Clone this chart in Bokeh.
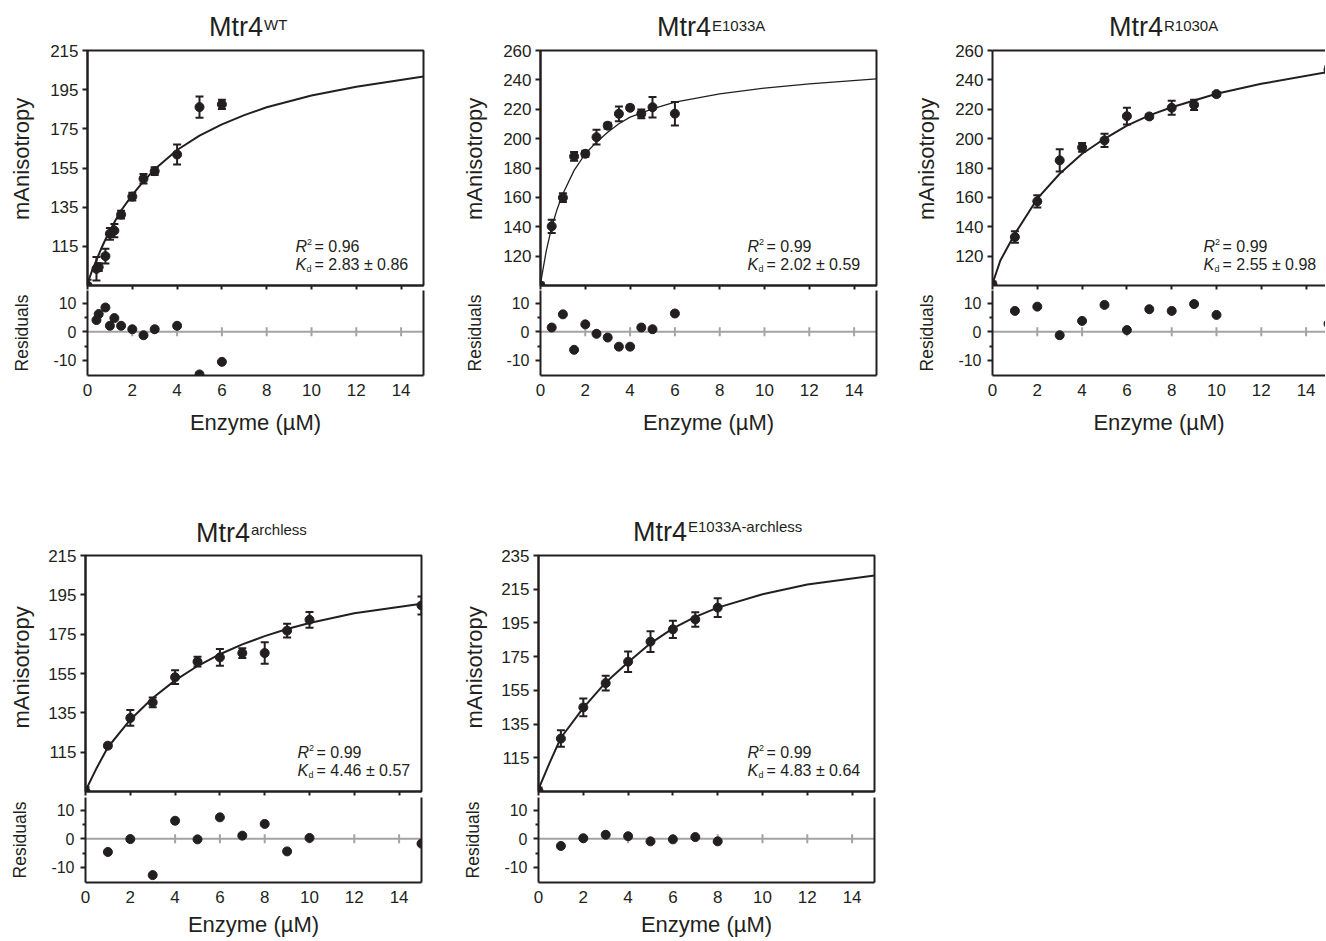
import math
from bokeh.plotting import figure
from bokeh.layouts import row, column
from bokeh.models import (ColumnDataSource, Whisker, TeeHead, FixedTicker, LinearAxis,
                          Label, Span, Range1d, Div)
from bokeh.embed import file_html
from bokeh.resources import INLINE

# ------------------------------------------------------------------ data
x_ticks = [0, 2, 4, 6, 8, 10, 12, 14]
zero_line_ticks = [2, 4, 6, 8, 10, 12, 14]
resid_ticks = [-10, 0, 10]
resid_minor_ticks = [-5, 5]
resid_tick_labels = {-10: "-10", 0: "0", 10: "10"}

# Mtr4 WT
wt_conc = [0, 0.4, 0.5, 0.8, 1.0, 1.2, 1.5, 2.0, 2.5, 3.0, 4.0, 5.0, 6.0]
wt_aniso = [95, 103.5, 104.4, 110, 121.4, 123, 131.2, 140.4, 149.5, 153.4, 161.9, 186.1, 187.5]
wt_err = [3, 6, 2, 3.8, 3, 3.4, 2, 2, 2.4, 2, 5.1, 5.4, 2.4]
wt_fit_conc = [0, 0.2, 0.4, 0.6, 0.8, 1.0, 1.25, 1.5, 2, 2.5, 3, 4, 5, 6, 7, 8, 10, 12, 15]
wt_fit = [96, 102.5, 108, 113.5, 118.5, 123, 128.3, 133.3, 141.3, 148.2, 154.4, 164.2,
          171.5, 177.3, 182, 186, 192, 196.5, 201.7]
wt_res_conc = [0.4, 0.5, 0.8, 1.0, 1.2, 1.5, 2.0, 2.5, 3.0, 4.0, 5.0, 6.0]
wt_res = [4.1, 6.2, 8.5, 2.1, 4.8, 2.1, 0.9, -1.2, 0.9, 2.1, -14.9, -10.5]

# Mtr4 E1033A
e_conc = [0, 0.5, 1.0, 1.5, 2.0, 2.5, 3.0, 3.5, 4.0, 4.5, 5.0, 6.0]
e_aniso = [100, 140.3, 159.8, 187.9, 189.7, 201, 208.8, 216.9, 221, 216.9, 221.4, 217]
e_err = [2, 4.5, 3, 3, 2, 5, 2, 5, 1.5, 3, 7, 8]
e_fit_conc = [0, 0.1, 0.25, 0.5, 0.75, 1, 1.5, 2, 2.5, 3, 3.5, 4, 5, 6, 8, 10, 12, 15]
e_fit = [101.3, 110, 123, 139.8, 152.3, 162.5, 178.4, 189.7, 197.6, 204.4, 210.1, 214.6,
         220.3, 224.8, 230.5, 234.4, 237.3, 240.7]
e_res_conc = [0.5, 1.0, 1.5, 2.0, 2.5, 3.0, 3.5, 4.0, 4.5, 5.0, 6.0]
e_res = [1.5, 6.1, -6.3, 2.6, -0.7, -2.0, -5.2, -5.2, 1.5, 0.9, 6.4]

# Mtr4 R1030A
r_conc = [0, 1, 2, 3, 4, 5, 6, 7, 8, 9, 10, 15]
r_aniso = [100.8, 133, 157.3, 185.2, 194, 198.8, 215.3, 215.1, 221, 223, 230.3, 247]
r_err = [2, 3.9, 4.2, 7.5, 3, 4.5, 5.7, 1.5, 4.8, 3.5, 1.5, 2.5]
r_fit_conc = [0, 0.35, 1, 2, 3, 4, 5, 6, 7, 8, 9, 10, 12, 15]
r_fit = [101.2, 117, 135.2, 159.1, 176.1, 189.7, 199.9, 208.9, 215.8, 221.4, 226, 230.5,
         237.3, 245.5]
r_res_conc = [1, 2, 3, 4, 5, 6, 7, 8, 9, 10, 15]
r_res = [7.3, 8.8, -1.2, 3.8, 9.4, 0.6, 7.9, 7.3, 9.7, 5.9, 2.8]

# Mtr4 archless
a_conc = [0, 1, 2, 3, 4, 5, 6, 7, 8, 9, 10, 15]
a_aniso = [95.1, 118.3, 132.4, 140.3, 153.1, 161, 163.2, 165.4, 165.4, 176.8, 182.3, 189.6]
a_err = [2, 1, 4, 2.5, 3.5, 2.5, 4.2, 2.5, 5.5, 3.5, 4, 4.6]
a_fit_conc = [0, 0.5, 1, 2, 3, 4, 5, 6, 7, 8, 9, 10, 12, 15]
a_fit = [95.4, 107, 117.5, 131.5, 142.5, 151.5, 158.8, 164.8, 169.8, 174, 177.6, 180.7,
         185.6, 190.5]
a_res_conc = [1, 2, 3, 4, 5, 6, 7, 8, 9, 10, 15]
a_res = [-4.6, -0.1, -12.7, 6.3, -0.2, 7.5, 1.1, 5.2, -4.4, 0.3, -1.7]

# Mtr4 E1033A-archless
ea_conc = [0, 1, 2, 3, 4, 5, 6, 7, 8]
ea_aniso = [95.4, 126.4, 144.9, 159.3, 172, 183.9, 191.2, 197.1, 204.1]
ea_err = [2, 4.9, 5.2, 4.4, 6.1, 6.1, 5.1, 4.3, 5.6]
ea_fit_conc = [0, 0.5, 1, 2, 3, 4, 5, 6, 7, 8, 10, 12, 15]
ea_fit = [96.4, 112.1, 126.9, 144.6, 159.7, 171.7, 182.9, 191.8, 198.6, 204.1, 212,
          217.8, 223.2]
ea_res_conc = [1, 2, 3, 4, 5, 6, 7, 8]
ea_res = [-2.5, 0.2, 1.4, 0.9, -0.9, -0.2, 0.6, -0.9]

# ------------------------------------------------------------------ style
INK = "#231f20"
GRAY = "#a3a3a3"
FONT = "Liberation Sans"
PX_PER_UNIT = 22.4          # x scale, pixels per µM
RES_RANGE = (-15.28, 14.44)
NBSP = "\u00a0"


def lab(fig, x, y, text, size, style="normal", align="left", baseline="alphabetic"):
    fig.add_layout(Label(x=x, y=y, text=text, text_font=FONT, text_font_size=size,
                         text_font_style=style, text_color=INK, text_align=align,
                         text_baseline=baseline))


def line_axis(fig, place):
    ax = LinearAxis(ticker=FixedTicker(ticks=[]), major_tick_out=0, major_tick_in=0,
                    minor_tick_out=0, minor_tick_in=0, major_label_text_font_size="1px",
                    major_label_text_color=None, major_label_standoff=0,
                    axis_line_width=2, axis_line_color=INK)
    fig.add_layout(ax, place)


def title_div(width, height, left, top, sup, sup_raise):
    html = ('<div style="position:relative;width:%dpx;height:%dpx;margin:0;padding:0;">'
            '<span style="position:absolute;left:%dpx;top:%dpx;white-space:nowrap;'
            "font-family:'Liberation Sans',Arial,sans-serif;font-size:27px;line-height:27px;"
            'color:%s;">Mtr4<span style="font-size:15px;line-height:0;position:relative;'
            'top:-%.1fpx;margin-left:1px;">%s</span></span></div>'
            % (width, height, left, top, INK, sup_raise, sup))
    return Div(text=html, width=width, height=height, margin=0)


def build_panel(s):
    L, R, FW = s["L"], s["R"], s["FW"]
    T, H, bb, RB = s["T"], s["H"], s["bb"], s["RB"]
    RH = 85
    W = L + FW + R
    xend = FW / PX_PER_UNIT
    ymin, ymax = s["yrange"]
    py = H / (ymax - ymin)

    def dx(px):
        return px / PX_PER_UNIT

    def up(p):
        return ymin + p / py

    top_pad = 8
    div_h = T - top_pad
    div = title_div(W, div_h, L + s["title_dx"], div_h + top_pad - s["title_dy"] - 22.9,
                    s["sup"], s["sup_raise"])

    xr = Range1d(0, xend)
    # ---------------- main plot
    p = figure(width=W, height=top_pad + H + bb, x_range=xr, y_range=Range1d(ymin, ymax),
               tools="", toolbar_location=None, output_backend="svg", title=None,
               min_border_left=L, min_border_right=R, min_border_top=top_pad,
               min_border_bottom=bb)
    p.grid.visible = False
    p.outline_line_color = INK if s["right"] else None
    p.outline_line_width = 2
    ya = p.yaxis[0]
    ya.ticker = FixedTicker(ticks=s["yticks"])
    ya.major_tick_out = 5
    ya.major_tick_in = 0
    ya.minor_tick_out = 0
    ya.minor_tick_in = 0
    ya.major_tick_line_width = 2
    ya.major_tick_line_color = INK
    ya.axis_line_width = 2
    ya.axis_line_color = INK
    ya.major_label_text_font = FONT
    ya.major_label_text_font_size = "17px"
    ya.major_label_text_color = INK
    ya.major_label_standoff = 4
    # leading no-break spaces nudge the centred title slightly upward, as in the original
    ya.axis_label = NBSP * s["ylab_shift"] + "mAnisotropy"
    ya.axis_label_text_font = FONT
    ya.axis_label_text_font_size = "22px"
    ya.axis_label_text_font_style = "normal"
    ya.axis_label_text_color = INK
    ya.axis_label_standoff = s["ylab_standoff"]
    xa = p.xaxis[0]
    xa.ticker = FixedTicker(ticks=x_ticks)
    xa.major_tick_out = 4
    xa.major_tick_in = 0
    xa.minor_tick_out = 0
    xa.minor_tick_in = 0
    xa.major_tick_line_width = 2
    xa.major_tick_line_color = INK
    xa.axis_line_width = 2
    xa.axis_line_color = INK
    xa.major_label_text_font_size = "1px"
    xa.major_label_text_color = None
    xa.major_label_standoff = 0
    if not s["right"]:
        line_axis(p, "above")

    src = ColumnDataSource(dict(x=s["conc"], y=s["aniso"],
                                lo=[v - e for v, e in zip(s["aniso"], s["err"])],
                                hi=[v + e for v, e in zip(s["aniso"], s["err"])]))
    p.line(s["fit_conc"], s["fit"], line_color=INK, line_width=s["fit_lw"])
    p.add_layout(Whisker(source=src, base="x", lower="lo", upper="hi", line_color=INK,
                         line_width=2,
                         lower_head=TeeHead(size=8, line_color=INK, line_width=2),
                         upper_head=TeeHead(size=8, line_color=INK, line_width=2)))
    p.scatter("x", "y", source=src, size=9, fill_color=INK, line_color=INK)

    # statistics
    ax0 = s["ann_dx"]
    lab(p, dx(ax0), up(39), "R", "16px", style="italic")
    lab(p, dx(ax0 + 11.5), up(44), "2", "9px")
    lab(p, dx(ax0 + 19), up(39), "= " + s["r2"], "16px")
    lab(p, dx(ax0), up(21), "K", "16px", style="italic")
    lab(p, dx(ax0 + 11), up(17), "d", "9px")
    lab(p, dx(ax0 + 19), up(21), "= " + s["kd"], "16px")

    # ---------------- residual plot
    r = figure(width=W, height=RH + RB, x_range=xr, y_range=Range1d(*RES_RANGE),
               tools="", toolbar_location=None, output_backend="svg", title=None,
               min_border_left=L, min_border_right=R, min_border_top=0, min_border_bottom=RB)
    r.grid.visible = False
    r.outline_line_color = None
    ry = r.yaxis[0]
    ry.ticker = FixedTicker(ticks=resid_ticks, minor_ticks=resid_minor_ticks)
    ry.major_label_overrides = resid_tick_labels
    ry.major_tick_out = 5
    ry.major_tick_in = 0
    ry.minor_tick_out = 3
    ry.minor_tick_in = 0
    ry.major_tick_line_width = 2
    ry.minor_tick_line_width = 2
    ry.major_tick_line_color = INK
    ry.minor_tick_line_color = INK
    ry.axis_line_width = 2
    ry.axis_line_color = INK
    ry.major_label_text_font = FONT
    ry.major_label_text_font_size = "16px"
    ry.major_label_text_color = INK
    ry.major_label_standoff = 6
    ry.axis_label = "Residuals"
    ry.axis_label_text_font = FONT
    ry.axis_label_text_font_size = "17.5px"
    ry.axis_label_text_font_style = "normal"
    ry.axis_label_text_color = INK
    ry.axis_label_standoff = 18
    rx = r.xaxis[0]
    rx.ticker = FixedTicker(ticks=x_ticks)
    rx.major_tick_out = 0
    rx.major_tick_in = 0
    rx.minor_tick_out = 0
    rx.minor_tick_in = 0
    rx.axis_line_width = 2
    rx.axis_line_color = INK
    rx.major_label_text_font = FONT
    rx.major_label_text_font_size = "17px"
    rx.major_label_text_color = INK
    rx.major_label_standoff = 8
    rx.axis_label = "Enzyme (\u00b5M)"
    rx.axis_label_text_font = FONT
    rx.axis_label_text_font_size = "22px"
    rx.axis_label_text_font_style = "normal"
    rx.axis_label_text_color = INK
    rx.axis_label_standoff = s["xlab_standoff"]
    if s["right"]:
        line_axis(r, "right")
    r.add_layout(Span(location=0, dimension="width", line_color=GRAY, line_width=2,
                      level="underlay"))
    r.scatter(zero_line_ticks, [0] * len(zero_line_ticks), marker="dash", angle=math.pi / 2,
              size=9, line_color=GRAY, line_width=2)
    r.scatter(s["res_conc"], s["res"], size=9, fill_color=INK, line_color=INK)
    return column(div, p, r, spacing=0)


common_row1 = dict(T=50, H=235, bb=5, RB=80, xlab_standoff=11, ylab_standoff=13, ylab_shift=3)
common_row2 = dict(T=100, H=236, bb=6, RB=58, xlab_standoff=6, ylab_standoff=11, ylab_shift=2)

panels_row1 = [
    dict(common_row1, L=87, R=30, FW=336, right=True, yrange=(95, 215),
         yticks=[115, 135, 155, 175, 195, 215], sup="WT", title_dx=122, title_dy=13,
         sup_raise=6, ann_dx=208, r2="0.96", kd="2.83 \u00b1 0.86", fit_lw=2,
         conc=wt_conc, aniso=wt_aniso, err=wt_err, fit_conc=wt_fit_conc, fit=wt_fit,
         res_conc=wt_res_conc, res=wt_res),
    dict(common_row1, L=87, R=30, FW=336, right=True, yrange=(100, 260),
         yticks=[120, 140, 160, 180, 200, 220, 240, 260], sup="E1033A", title_dx=117,
         title_dy=13, sup_raise=5, ann_dx=207, r2="0.99", kd="2.02 \u00b1 0.59", fit_lw=1.3,
         conc=e_conc, aniso=e_aniso, err=e_err, fit_conc=e_fit_conc, fit=e_fit,
         res_conc=e_res_conc, res=e_res),
    dict(common_row1, L=86, R=0, FW=333, right=False, yrange=(100, 260),
         yticks=[120, 140, 160, 180, 200, 220, 240, 260], sup="R1030A", title_dx=117,
         title_dy=13, sup_raise=5, ann_dx=211, r2="0.99", kd="2.55 \u00b1 0.98", fit_lw=2,
         conc=r_conc, aniso=r_aniso, err=r_err, fit_conc=r_fit_conc, fit=r_fit,
         res_conc=r_res_conc, res=r_res),
]
panels_row2 = [
    dict(common_row2, L=85, R=30, FW=336, right=True, yrange=(95, 215),
         yticks=[115, 135, 155, 175, 195, 215], sup="archless", title_dx=111, title_dy=12,
         sup_raise=7, ann_dx=212, r2="0.99", kd="4.46 \u00b1 0.57", fit_lw=2,
         conc=a_conc, aniso=a_aniso, err=a_err, fit_conc=a_fit_conc, fit=a_fit,
         res_conc=a_res_conc, res=a_res),
    dict(common_row2, L=87, R=30, FW=336, right=True, yrange=(95, 235),
         yticks=[115, 135, 155, 175, 195, 215, 235], sup="E1033A-archless", title_dx=95,
         title_dy=13, sup_raise=9, ann_dx=209, r2="0.99", kd="4.83 \u00b1 0.64", fit_lw=2,
         conc=ea_conc, aniso=ea_aniso, err=ea_err, fit_conc=ea_fit_conc, fit=ea_fit,
         res_conc=ea_res_conc, res=ea_res),
]

layout = column(row(*[build_panel(s) for s in panels_row1], spacing=0),
                row(*[build_panel(s) for s in panels_row2], spacing=0), spacing=0)

open("out.html", "w").write(file_html(layout, INLINE, "Mtr4 anisotropy"))
